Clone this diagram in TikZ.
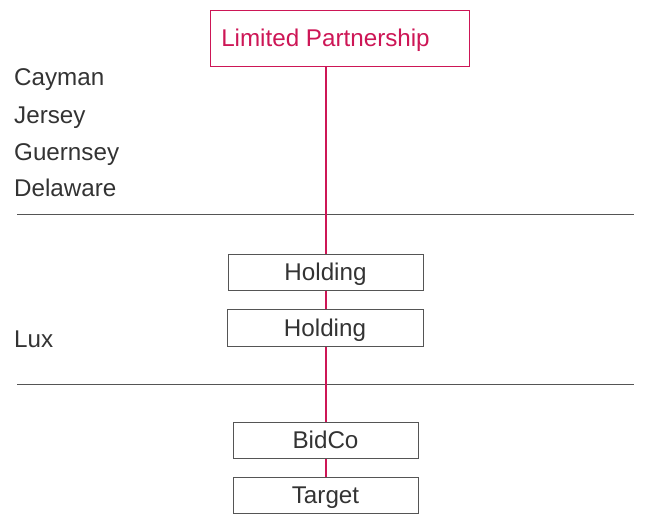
\documentclass[tikz,border=0pt]{standalone}
\usepackage{fontspec}
\setmainfont{Liberation Sans}
\definecolor{crim}{RGB}{205,22,86}
\definecolor{txt}{RGB}{51,51,51}
\definecolor{boxgray}{RGB}{85,85,85}
\begin{document}
\begin{tikzpicture}[x=1pt,y=-1pt,
  every node/.style={font=\fontsize{24.2pt}{28pt}\selectfont},
  entity/.style={draw=boxgray,line width=1pt,text=txt,inner sep=0pt,text height=17pt,text depth=0pt},
  lpbox/.style={draw=crim,line width=1pt,inner sep=0pt},
  lptext/.style={text=crim,inner sep=0pt,text height=17pt,text depth=0pt},
  jurlabel/.style={text=txt,anchor=base west,inner sep=0pt},
  divider/.style={draw=boxgray,line width=1pt},
  crimline/.style={draw=crim,line width=2pt}]
\useasboundingbox (0,0) rectangle (662,514);
\node[lpbox,minimum width=259pt,minimum height=56pt] (lp) at (339.5,38) {};
\node[lptext] (lpt) at (325.5,38) {Limited Partnership};
\node[entity,minimum width=195pt,minimum height=36pt] (h1) at (325.5,272) {Holding};
\node[entity,minimum width=196pt,minimum height=37pt] (h2) at (325,327.5) {Holding};
\node[entity,minimum width=185pt,minimum height=36pt] (bid) at (325.5,440) {BidCo};
\node[entity,minimum width=185pt,minimum height=36pt] (tgt) at (325.5,495) {Target};
\node[jurlabel] (cay) at (14,85) {Cayman};
\node[jurlabel] (jer) at (14,123) {Jersey};
\node[jurlabel] (gue) at (14,160) {Guernsey};
\node[jurlabel] (del) at (14,196) {Delaware};
\node[jurlabel] (lux) at (14,347) {Lux};
\coordinate (l1a) at (17,214.5);
\coordinate (l1b) at (634,214.5);
\coordinate (l2a) at (17,384);
\coordinate (l2b) at (634,384);
\draw[divider] (l1a) -- (l1b);
\draw[divider] (l2a) -- (l2b);
\draw[crimline] (lp.south -| h1.north) -- (h1.north);
\draw[crimline] (h1.south) -- (h1.south |- h2.north);
\draw[crimline] (h1.south |- h2.south) -- (bid.north);
\draw[crimline] (bid.south) -- (tgt.north);
\end{tikzpicture}
\end{document}
